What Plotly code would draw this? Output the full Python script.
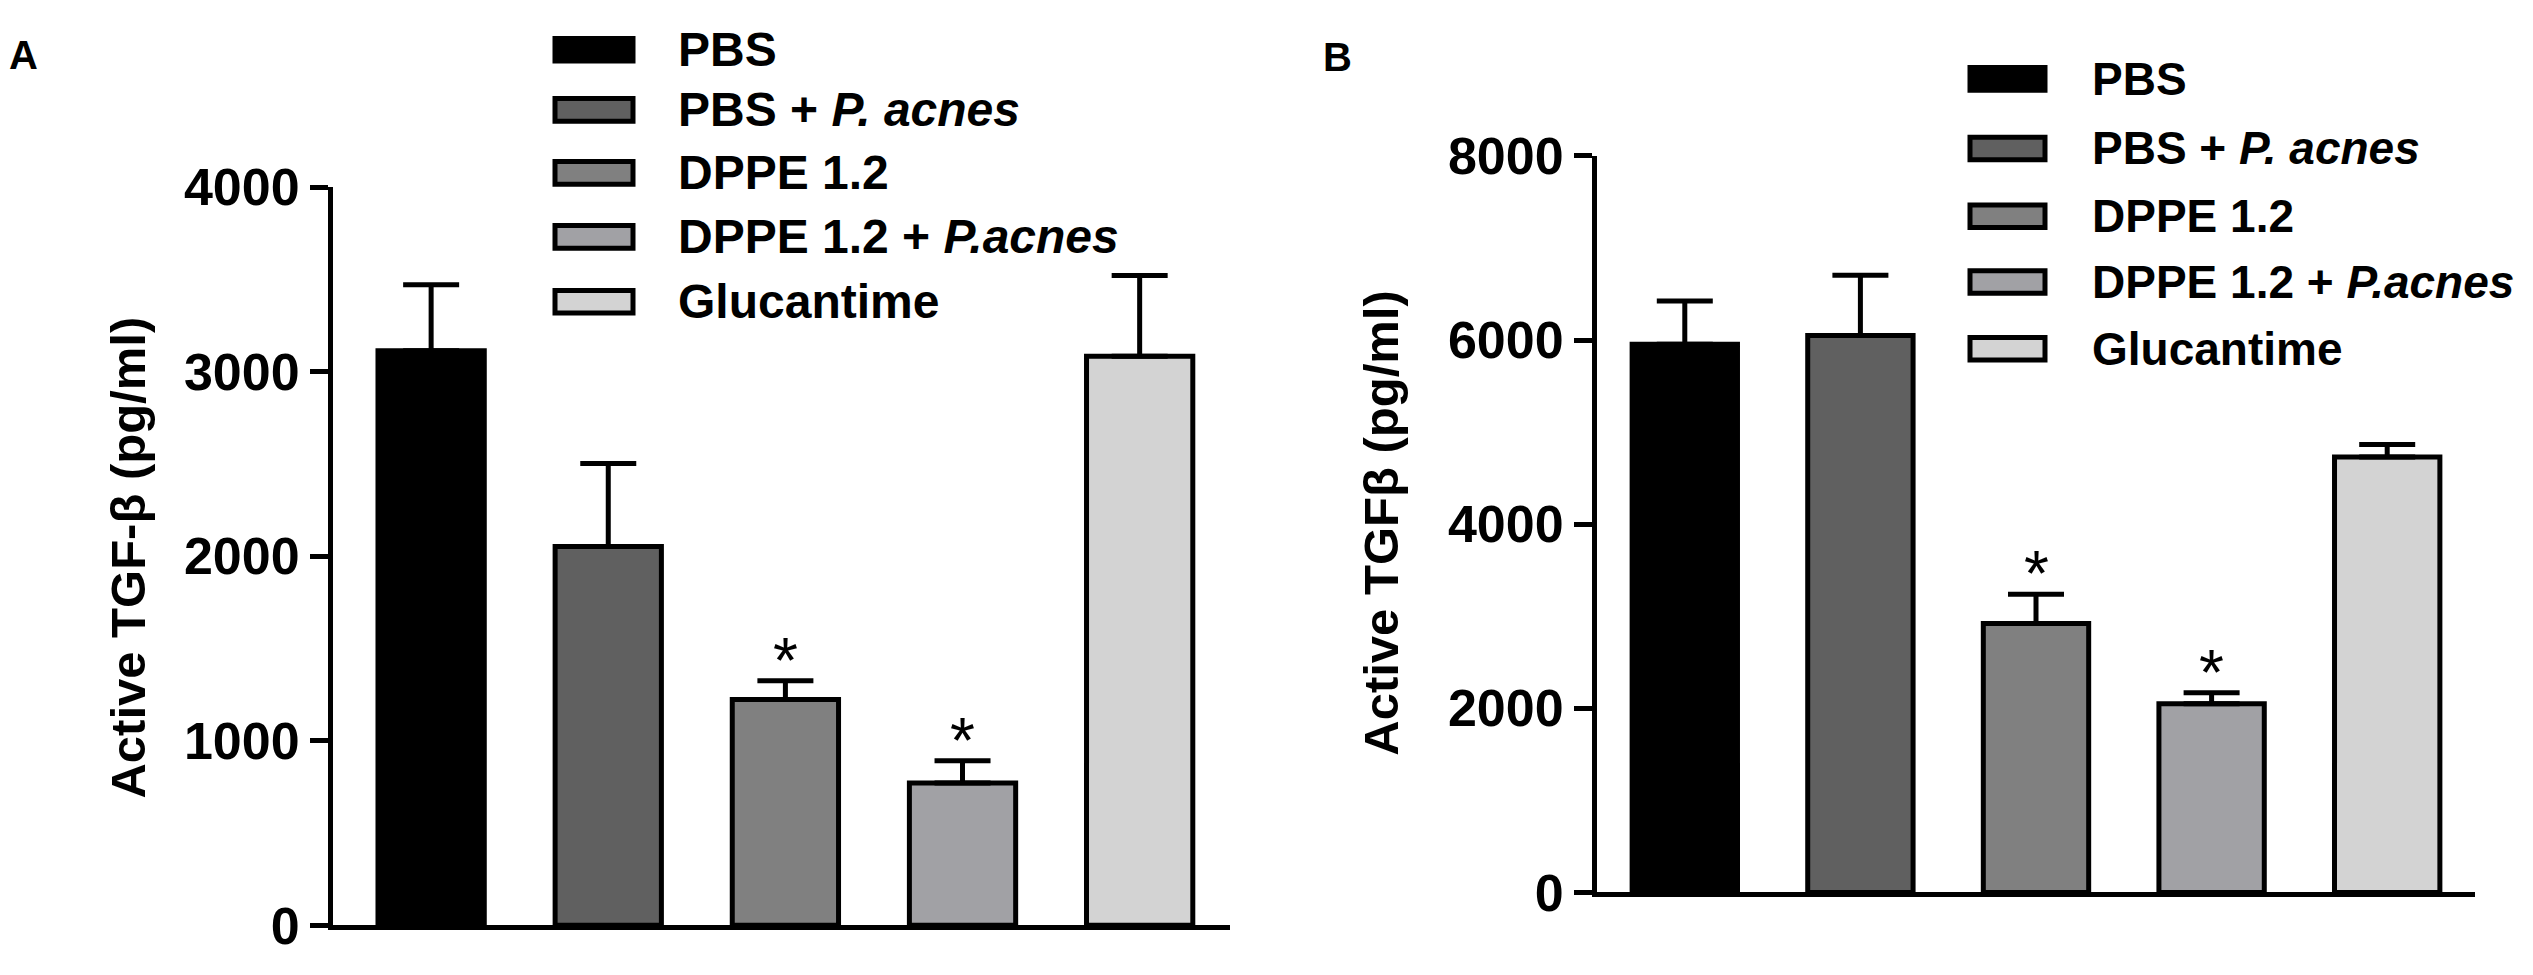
import plotly.graph_objects as go

categories = ["PBS", "PBS + P. acnes", "DPPE 1.2", "DPPE 1.2 + P.acnes", "Glucantime"]
legend_labels = ["PBS", "PBS + <i>P. acnes</i>", "DPPE 1.2", "DPPE 1.2 + <i>P.acnes</i>", "Glucantime"]
colors = ["#000000", "#606060", "#808080", "#a1a1a5", "#d3d3d3"]

a_values = [3113, 2053, 1224, 771, 3083]
a_errors = [357, 449, 101, 121, 438]
b_values = [5955, 6050, 2921, 2050, 4729]
b_errors = [470, 654, 317, 119, 136]
significant = [False, False, True, True, False]

a_ticks = [0, 1000, 2000, 3000, 4000]
b_ticks = [0, 2000, 4000, 6000, 8000]
a_title = "Active TGF-β (pg/ml)"
b_title = "Active TGFβ (pg/ml)"

W, H = 2533, 975
FONT = "Liberation Sans, Arial, sans-serif"

fig = go.Figure()

for vals, errs, xa, ya in [(a_values, a_errors, "x", "y"), (b_values, b_errors, "x2", "y2")]:
    fig.add_trace(go.Bar(
        x=categories, y=vals, xaxis=xa, yaxis=ya, width=0.6,
        marker=dict(color=colors, line=dict(color="black", width=5)),
        error_y=dict(type="data", symmetric=False, array=errs,
                     arrayminus=[0] * len(errs), color="black",
                     thickness=5, width=28),
        showlegend=False,
    ))
    for c, v, e, s in zip(categories, vals, errs, significant):
        if s:
            fig.add_annotation(x=c, y=v + e, xref=xa, yref=ya, text="*",
                               showarrow=False, yanchor="middle", yshift=20,
                               font=dict(family=FONT, size=64, color="black"))

axis_common = dict(showline=True, linecolor="black", linewidth=5,
                   showgrid=False, zeroline=False)
tick_common = dict(ticks="outside", ticklen=18, tickwidth=5, tickcolor="black",
                   tickfont=dict(family=FONT, size=52, color="black", weight="bold"))

fig.update_layout(
    autosize=True,
    margin=dict(l=0, r=0, t=0, b=0, pad=0),
    paper_bgcolor="white", plot_bgcolor="white",
    xaxis=dict(domain=[333 / W, 1230 / W], range=[-0.554, 4.51], showticklabels=False,
               ticks="", anchor="y", **axis_common),
    yaxis=dict(domain=[1 - 953 / H, 1 - 168 / H], range=[0, 4000], tickvals=a_ticks,
               anchor="x", **tick_common, **axis_common),
    xaxis2=dict(domain=[1597 / W, 2475 / W], range=[-0.5, 4.5], showticklabels=False,
                ticks="", anchor="y2", **axis_common),
    yaxis2=dict(domain=[1 - 918 / H, 1 - 135 / H], range=[0, 8000], tickvals=b_ticks,
                anchor="x2", **tick_common, **axis_common),
)

# y-axis titles
fig.add_annotation(x=128 / W, y=1 - 562 / H, xref="paper", yref="paper", text=a_title,
                   textangle=-90, showarrow=False, xanchor="center", yanchor="middle",
                   font=dict(family=FONT, size=49, color="black", weight="bold"))
fig.add_annotation(x=1381 / W, y=1 - 526 / H, xref="paper", yref="paper", text=b_title,
                   textangle=-90, showarrow=False, xanchor="center", yanchor="middle",
                   font=dict(family=FONT, size=49, color="black", weight="bold"))

# panel letters
fig.add_annotation(x=7 / W, y=1 - 28 / H, xref="paper", yref="paper", text="A",
                   showarrow=False, xanchor="left", yanchor="middle",
                   font=dict(family=FONT, size=40, color="black", weight="bold"))
fig.add_annotation(x=1321 / W, y=1 - 30 / H, xref="paper", yref="paper", text="B",
                   showarrow=False, xanchor="left", yanchor="middle",
                   font=dict(family=FONT, size=40, color="black", weight="bold"))

# legends (drawn as swatches + text)
def draw_legend(sx0, sx1, tx, rows, sh, fsize):
    for lab, col, yc in zip(legend_labels, colors, rows):
        fig.add_shape(type="rect", xref="paper", yref="paper",
                      x0=sx0 / W, x1=sx1 / W, y0=1 - (yc + sh / 2) / H, y1=1 - (yc - sh / 2) / H,
                      fillcolor=col, line=dict(color="black", width=5))
        fig.add_annotation(x=tx / W, y=1 - yc / H, xref="paper", yref="paper", text=lab,
                           showarrow=False, xanchor="left", yanchor="middle",
                           font=dict(family=FONT, size=fsize, color="black", weight="bold"))

draw_legend(555, 633, 676, [22, 86, 153, 221, 290], 24, 48)
draw_legend(1970, 2045, 2090, [53, 127, 199, 269, 340], 24, 46)

post = (
    "document.documentElement.style.margin='0';"
    "document.body.style.margin='0';"
    "document.body.style.overflow='hidden';"
    "var gd=document.getElementById('{plot_id}');"
    "gd.style.width='100vw';gd.style.height='100vh';"
    "Plotly.Plots.resize(gd);"
)
fig.write_html("out.html", config={"displayModeBar": False, "responsive": True},
               default_width="100vw", default_height="100vh", post_script=post)
